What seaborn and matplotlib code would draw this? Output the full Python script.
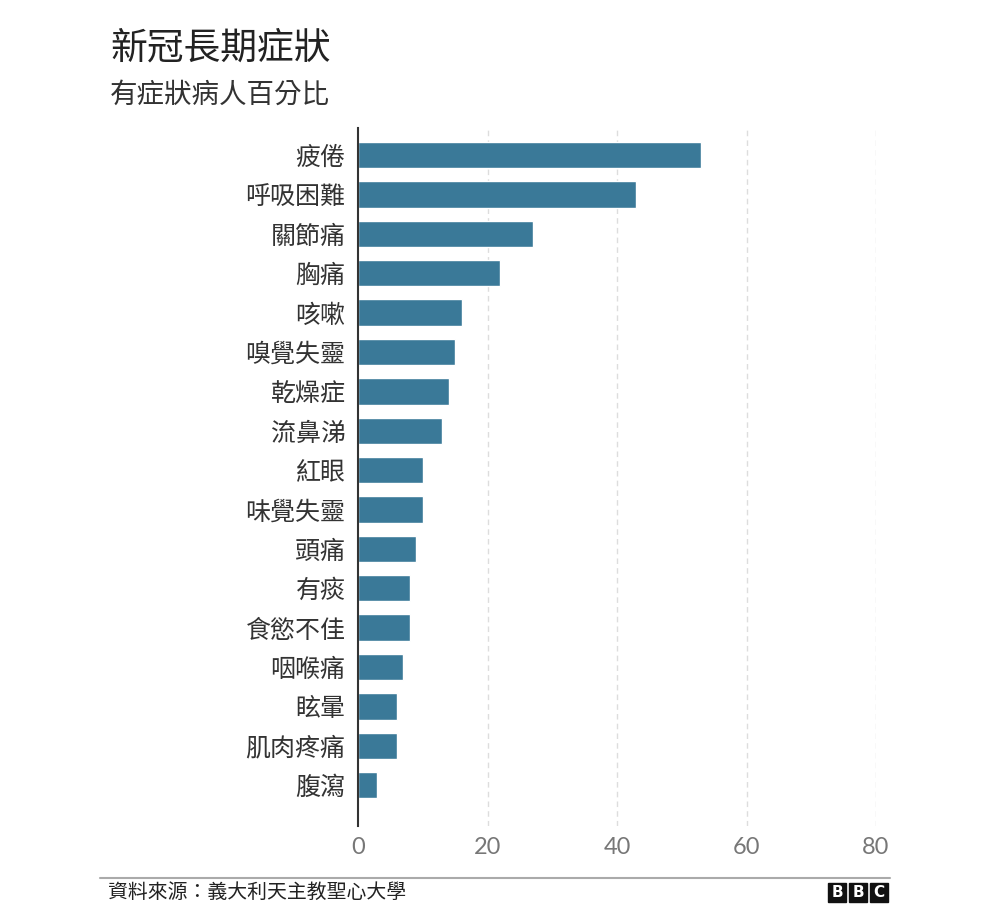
import matplotlib
matplotlib.use("Agg")
import matplotlib.pyplot as plt
import seaborn as sns
import pandas as pd
from matplotlib.patches import Rectangle

symptoms = ["疲倦", "呼吸困難", "關節痛", "胸痛", "咳嗽", "嗅覺失靈", "乾燥症", "流鼻涕",
            "紅眼", "味覺失靈", "頭痛", "有痰", "食慾不佳", "咽喉痛", "眩暈", "肌肉疼痛", "腹瀉"]
percent = [53, 43, 27, 22, 16, 15, 14, 13, 10, 10, 9, 8, 8, 7, 6, 6, 3]
x_ticks = [0, 20, 40, 60, 80]

title = "新冠長期症狀"
subtitle = "有症狀病人百分比"
source = "資料來源：義大利天主教聖心大學"

sns.set_theme(style="white")
cjk = ["Noto Sans CJK TC", "DejaVu Sans"]
plt.rcParams["font.family"] = cjk

df = pd.DataFrame({"symptom": symptoms, "percent": percent})

fig = plt.figure(figsize=(9.84, 9.11), dpi=100)
ax = fig.add_axes([358/984, 1-826/911, (876-358)/984, (826-128)/911])

sns.barplot(data=df, y="symptom", x="percent", orient="h", color="#3a7998",
            saturation=1, width=0.67, ax=ax)

ax.set_xlim(0, 80)
ax.set_ylim(16 + 1.04, -0.69)
ax.set_xticks(x_ticks)
ax.set_xticklabels([str(t) for t in x_ticks], fontsize=17, color="#777777",
                   family=["Lato", "DejaVu Sans"])
ax.tick_params(axis="x", length=0, pad=8)
ax.tick_params(axis="y", length=0, pad=9)
for lab in ax.get_yticklabels():
    lab.set_fontsize(18)
    lab.set_color("#333333")
    lab.set_fontweight("medium")
ax.set_xlabel("")
ax.set_ylabel("")
for t in x_ticks[1:]:
    ax.axvline(t, color="#dddddd", lw=1, ls=(0, (4, 3)), zorder=0)
for s in ["top", "right", "bottom"]:
    ax.spines[s].set_visible(False)
ax.spines["left"].set_color("#333333")
ax.spines["left"].set_linewidth(1.5)

fig.text(110/984, 1-48/911, title, fontsize=26.5, color="#222222", va="center", ha="left",
         fontweight="medium")
fig.text(110/984, 1-95/911, subtitle, fontsize=19.8, color="#333333", va="center", ha="left",
         fontweight="medium")

fig.add_artist(plt.Line2D([100/984, 890/984], [1-878/911, 1-878/911],
                          color="#aaaaaa", lw=1.5, transform=fig.transFigure))
fig.text(108/984, 1-892/911, source, fontsize=14.3, color="#222222", va="center", ha="left",
         fontweight="medium")

# BBC logo
bx0, by, bw, gap = 828, 883, 18, 3
for i, ch in enumerate("BBC"):
    x = bx0 + i * (bw + gap)
    fig.add_artist(Rectangle((x/984, 1-(by+19)/911), bw/984, 19/911,
                             transform=fig.transFigure, color="#111111"))
    fig.text((x + bw/2)/984, 1-(by+9.5)/911, ch, fontsize=11, color="white",
             fontweight="bold", ha="center", va="center", family=["DejaVu Sans"])

fig.savefig("out.png", dpi=100, facecolor="white")
